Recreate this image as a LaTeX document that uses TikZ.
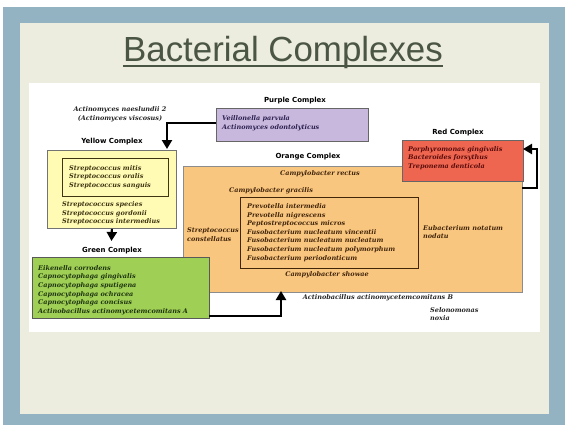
\documentclass[tikz,border=0pt]{standalone}
\usepackage{fontspec}
\setmainfont{Liberation Sans}
\newfontfamily\spfont{DejaVu Serif}
\newfontfamily\lblfont{DejaVu Sans}
\usetikzlibrary{arrows.meta}
\definecolor{framec}{HTML}{93B3C3}
\definecolor{creamc}{HTML}{ECECDF}
\definecolor{titlec}{HTML}{4A5544}
\definecolor{yellowc}{HTML}{FFFAB4}
\definecolor{orangec}{HTML}{F9C680}
\definecolor{redc}{HTML}{EE6650}
\definecolor{greenc}{HTML}{9FCF55}
\definecolor{purplec}{HTML}{C9B8DE}
\definecolor{ytext}{HTML}{3E3512}
\definecolor{otext}{HTML}{42260A}
\definecolor{rtext}{HTML}{5A0C0C}
\definecolor{gtext}{HTML}{1E3410}
\definecolor{ptext}{HTML}{2C2250}
\definecolor{ktext}{HTML}{262626}
\begin{document}
\begin{tikzpicture}[x=1bp,y=-1bp,
  sp/.style={font=\spfont\bfseries\itshape\fontsize{6.5}{8.6}\selectfont, align=left, inner sep=0, anchor=west},
  lbl/.style={font=\lblfont\bfseries\fontsize{7}{8}\selectfont, inner sep=0, text=black},
  box/.style={draw, line width=0.8bp, inner sep=0, anchor=north west},
  arr/.style={line width=2.2bp, -{Triangle[width=10bp,length=9bp]}}]
\useasboundingbox (0,0) rectangle (566,426);
% frame and slide
\fill[white] (0,0) rectangle (566,426);
\fill[framec] (3,7) rectangle (565,425);
\fill[creamc] (20,23) rectangle (549,414);
\fill[white] (29,83) rectangle (540,332);
% title
\node[font=\fontsize{35}{40}\selectfont, text=titlec, inner sep=0, anchor=base] (title) at (283,61) {Bacterial Complexes};
\draw[titlec, line width=2bp] ([yshift=-5bp]title.base west) -- ([yshift=-5bp]title.base east);

% orange complex
\node[box, fill=orangec, draw=black!45, minimum width=339bp, minimum height=126bp] (orange) at (183,166) {};
\node[box, draw=otext, minimum width=178bp, minimum height=71bp] (orangein) at (240,197) {};
\node[lbl] (orangelbl) at (308,157) {Orange Complex};
\node[sp, anchor=center, text=otext] (rectus) at (320,174) {Campylobacter rectus};
\node[sp, text=otext] (gracilis) at (229,191) {Campylobacter gracilis};
\node[sp, text=otext] (oin) at (247,232.5) {Prevotella intermedia\\Prevotella nigrescens\\Peptostreptococcus micros\\Fusobacterium nucleatum vincentii\\Fusobacterium nucleatum nucleatum\\Fusobacterium nucleatum polymorphum\\Fusobacterium periodonticum};
\node[sp, text=otext] (constel) at (187,234.5) {Streptococcus\\constellatus};
\node[sp, anchor=center, text=otext] (showae) at (327,275) {Campylobacter showae};
\node[sp, text=otext] (eubac) at (423,232) {Eubacterium notatum\\nodatu};

% red complex
\node[box, fill=redc, draw=black!60, minimum width=121bp, minimum height=41bp] (red) at (402,140) {};
\node[lbl] (redlbl) at (458,133) {Red Complex};
\node[sp, text=rtext] (redtxt) at (408,158) {Porphyromonas gingivalis\\Bacteroides forsythus\\Treponema denticola};

% purple complex
\node[box, fill=purplec, draw=black!60, minimum width=152bp, minimum height=33bp] (purple) at (216,108) {};
\node[lbl] (purplelbl) at (295,101) {Purple Complex};
\node[sp, text=ptext] (purtxt) at (222,123.5) {Veillonella parvula\\Actinomyces odontolyticus};

% yellow complex
\node[sp, anchor=center, align=center, text=ktext] (naes) at (120,114.5) {Actinomyces naeslundii 2\\(Actinomyces viscosus)};
\node[lbl] (yellowlbl) at (112,142) {Yellow Complex};
\node[box, fill=yellowc, draw=black!55, minimum width=129bp, minimum height=78bp] (yellow) at (47,150) {};
\node[box, draw=ytext, minimum width=106bp, minimum height=38bp] (yellowin) at (62,158) {};
\node[sp, text=ytext] (yin) at (69,177) {Streptococcus mitis\\Streptococcus oralis\\Streptococcus sanguis};
\node[sp, text=ytext] (yout) at (62,213.5) {Streptococcus species\\Streptococcus gordonii\\Streptococcus intermedius};

% green complex
\node[lbl] (greenlbl) at (112,251) {Green Complex};
\node[box, fill=greenc, draw=black!65, minimum width=177bp, minimum height=61bp] (green) at (32,257) {};
\node[sp, text=gtext] (grtxt) at (38,290) {Eikenella corrodens\\Capnocytophaga gingivalis\\Capnocytophaga sputigena\\Capnocytophaga ochracea\\Capnocytophaga concisus\\Actinobacillus actinomycetemcomitans A};

% others
\node[sp, anchor=center, text=ktext] (actb) at (378,298) {Actinobacillus actinomycetemcomitans B};
\node[sp, text=ktext, font=\spfont\bfseries\itshape\fontsize{6.5}{7.4}\selectfont] (selon) at (430,314) {Selonomonas\\noxia};

% connectors
\coordinate (ya) at (167,149);
\draw[arr] (purple.west |- 0,123) -| (ya);
\coordinate (gl) at (111.5,241);
\draw[arr] (yellow.south) -- (gl);
\coordinate (gs) at (209,316);
\coordinate (ob) at (281,291);
\draw[arr] (gs) -| (ob);
\coordinate (oe) at (522,188);
\coordinate (re) at (523,149);
\draw[line width=2.2bp] (oe) -- (537,188) -- (537,149);
\draw[arr] (538.1,149) -- (re);
\end{tikzpicture}
\end{document}
